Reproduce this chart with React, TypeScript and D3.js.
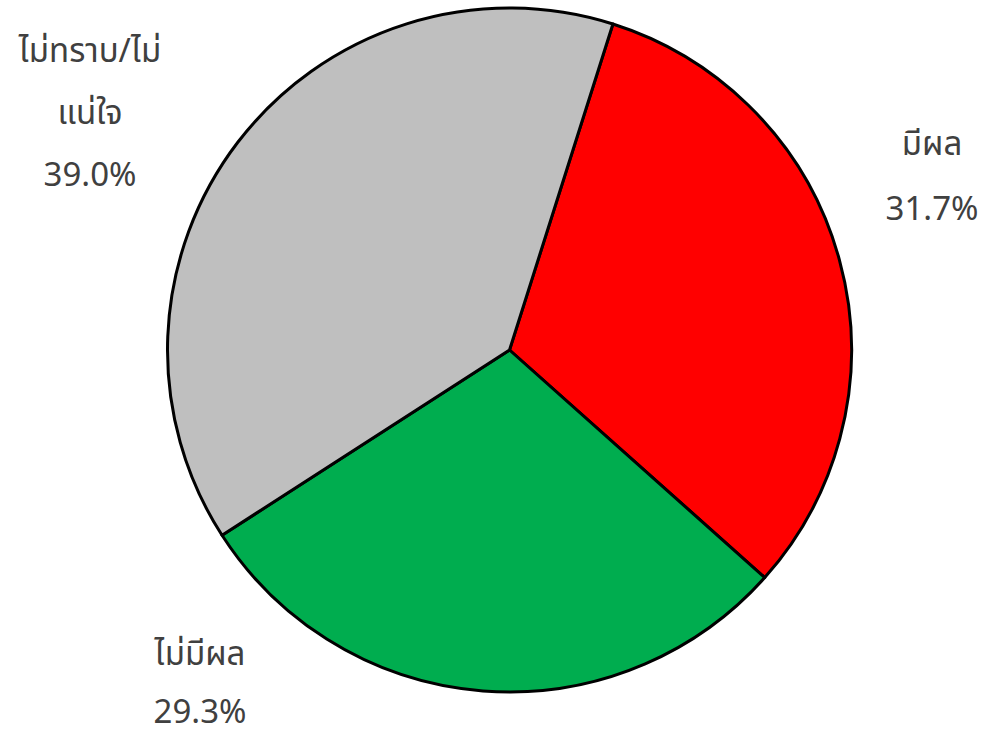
import React, { useEffect, useRef } from 'react';
import * as d3 from 'd3';

const categories = ['มีผล', 'ไม่มีผล', 'ไม่ทราบ/ไม่แน่ใจ'];
const values = [31.7, 29.3, 39.0];
const colors = ['#ff0000', '#00ad4f', '#bfbfbf'];
// label text lines as shown in the chart
const labelLines = [
    ['มีผล', '31.7%'],
    ['ไม่มีผล', '29.3%'],
    ['ไม่ทราบ/ไม่', 'แน่ใจ', '39.0%'],
];

const width = 985;
const height = 734;

const App: React.FC = () => {
    const svgRef = useRef<SVGSVGElement | null>(null);

    useEffect(() => {
        if (!svgRef.current) return;
        const svg = d3.select(svgRef.current);
        svg.selectAll('*').remove();

        const cx = 509.5;
        const cy = 350;
        const radius = 342;

        const startAngle = (17.6 * Math.PI) / 180;
        const pie = d3.pie<number>()
            .sort(null)
            .startAngle(startAngle)
            .endAngle(startAngle + 2 * Math.PI);

        const arc = d3.arc<d3.PieArcDatum<number>>()
            .innerRadius(0)
            .outerRadius(radius);

        const g = svg.append('g').attr('transform', `translate(${cx},${cy})`);

        g.selectAll('path')
            .data(pie(values))
            .enter()
            .append('path')
            .attr('d', arc)
            .attr('fill', (_, i) => colors[i])
            .attr('stroke', '#000')
            .attr('stroke-width', 3)
            .attr('stroke-linejoin', 'round');

        // manual label placement (x center, first baseline, line step)
        const labelPos = [
            { x: 932, y: 155, step: 65 },
            { x: 200, y: 665, step: 58 },
            { x: 90, y: 62, step: 62 },
        ];

        const labels = svg.append('g')
            .attr('font-family', "'Leelawadee UI', Tahoma, 'Noto Sans Thai', 'Noto Sans', sans-serif")
            .attr('font-size', 33)
            .attr('fill', '#404040')
            .attr('text-anchor', 'middle');

        labelLines.forEach((lines, i) => {
            const t = labels.append('text').attr('aria-label', categories[i]);
            lines.forEach((line, j) => {
                t.append('tspan')
                    .attr('x', labelPos[i].x)
                    .attr('y', labelPos[i].y + j * labelPos[i].step)
                    .text(line);
            });
        });
    }, []);

    return (
        <svg
            ref={svgRef}
            width={width}
            height={height}
            style={{ display: 'block', position: 'absolute', left: 0, top: 0 }}
        />
    );
};

export default App;
